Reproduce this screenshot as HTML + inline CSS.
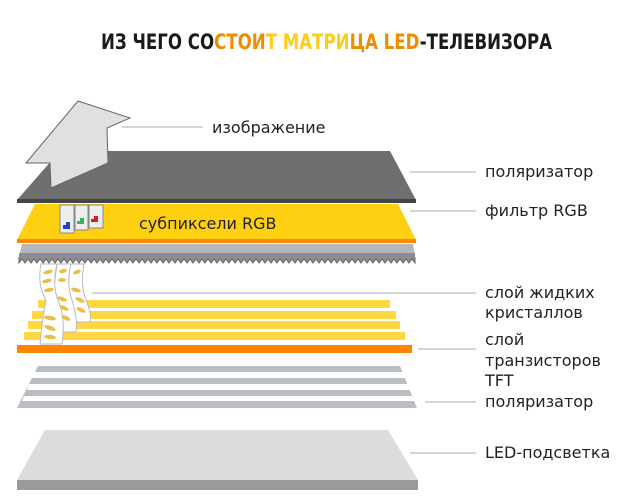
<!DOCTYPE html>
<html><head><meta charset="utf-8"><style>
html,body{margin:0;padding:0;background:#fff;width:640px;height:503px;overflow:hidden}
svg text{font-family:"DejaVu Sans","Liberation Sans",sans-serif;fill:#222}
</style></head><body>
<svg width="640" height="503" viewBox="0 0 640 503" xmlns="http://www.w3.org/2000/svg">
<text x="101" y="49" textLength="451" lengthAdjust="spacingAndGlyphs" style="font-family:'DejaVu Sans Condensed','DejaVu Sans',sans-serif;font-weight:bold;font-size:21px"><tspan fill="#1a1a1a">ИЗ ЧЕГО СО</tspan><tspan fill="#f08c00">СТОИ</tspan><tspan fill="#ffcc1a">Т МАТРИ</tspan><tspan fill="#f08c00">ЦА LED</tspan><tspan fill="#1a1a1a">-ТЕЛЕВИЗОРА</tspan></text>

<polygon points="45,430 388,430 418,480 17,480" fill="#dcdcda"/>
<rect x="17" y="480" width="401" height="10" fill="#9a9a9a"/>

<polygon points="38,366 400,366 417,408 17,408" fill="#b8bec4"/>
<polygon points="34,372 403,372 405,378 32,378" fill="#fff"/>
<polygon points="29,384 408,384 410,390 27,390" fill="#fff"/>
<polygon points="24,396 413,396 415,401 22,401" fill="#fff"/>

<rect x="38" y="300" width="352" height="8" fill="#ffd740"/>
<rect x="32" y="311" width="364" height="8" fill="#ffd740"/>
<rect x="28" y="321" width="372" height="8" fill="#ffd740"/>
<rect x="24" y="332" width="381" height="8" fill="#ffd740"/>
<rect x="17" y="345" width="395" height="8" fill="#ff8400"/>

<g stroke="#bbb" stroke-width="1" fill="#fff">
<path d="M70,264 L84,264 Q80,285 86,300 Q92,315 90,322 L74,322 Q74,305 68,290 Z"/>
<path d="M57,264 L71,264 Q66,285 72,300 Q78,320 76,332 L58,332 Q59,310 53,295 Z"/>
<path d="M41,264 L57,264 Q52,285 58,300 Q66,320 62,344 L40,344 Q42,320 46,300 Q37,285 41,264 Z"/>
</g>
<g fill="#e8c048">
<ellipse cx="48" cy="272" rx="5" ry="2" transform="rotate(-15 48 272)"/>
<ellipse cx="47" cy="281" rx="5" ry="2" transform="rotate(-15 47 281)"/>
<ellipse cx="49" cy="290" rx="5" ry="2" transform="rotate(-10 49 290)"/>
<ellipse cx="50" cy="318" rx="6" ry="2.2" transform="rotate(10 50 318)"/>
<ellipse cx="50" cy="328" rx="6" ry="2.2" transform="rotate(20 50 328)"/>
<ellipse cx="50" cy="337" rx="6" ry="2.2" transform="rotate(5 50 337)"/>
<ellipse cx="63" cy="271" rx="4" ry="2" transform="rotate(-15 63 271)"/>
<ellipse cx="62" cy="280" rx="4" ry="2"/>
<ellipse cx="62" cy="299" rx="5" ry="2" transform="rotate(20 62 299)"/>
<ellipse cx="64" cy="308" rx="5" ry="2" transform="rotate(25 64 308)"/>
<ellipse cx="66" cy="318" rx="5" ry="2" transform="rotate(25 66 318)"/>
<ellipse cx="77" cy="272" rx="4" ry="2" transform="rotate(-20 77 272)"/>
<ellipse cx="76" cy="290" rx="5" ry="2" transform="rotate(15 76 290)"/>
<ellipse cx="80" cy="300" rx="5" ry="2" transform="rotate(25 80 300)"/>
<ellipse cx="81" cy="310" rx="5" ry="2" transform="rotate(25 81 310)"/>
</g>

<polygon points="22,244 413,244 415,256 415,260 19,260 19,256" fill="#b4b8bc"/>
<rect x="19" y="253" width="396" height="4" fill="#8a8e92"/>
<polyline fill="#8a8e92" stroke="#666" stroke-width="1" points="19,257 19,263 22,259 25,263 28,259 31,263 34,259 37,263 40,259 43,263 46,259 49,263 52,259 55,263 58,259 61,263 64,259 67,263 70,259 73,263 76,259 79,263 82,259 85,263 88,259 91,263 94,259 97,263 100,259 103,263 106,259 109,263 112,259 115,263 118,259 121,263 124,259 127,263 130,259 133,263 136,259 139,263 142,259 145,263 148,259 151,263 154,259 157,263 160,259 163,263 166,259 169,263 172,259 175,263 178,259 181,263 184,259 187,263 190,259 193,263 196,259 199,263 202,259 205,263 208,259 211,263 214,259 217,263 220,259 223,263 226,259 229,263 232,259 235,263 238,259 241,263 244,259 247,263 250,259 253,263 256,259 259,263 262,259 265,263 268,259 271,263 274,259 277,263 280,259 283,263 286,259 289,263 292,259 295,263 298,259 301,263 304,259 307,263 310,259 313,263 316,259 319,263 322,259 325,263 328,259 331,263 334,259 337,263 340,259 343,263 346,259 349,263 352,259 355,263 358,259 361,263 364,259 367,263 370,259 373,263 376,259 379,263 382,259 385,263 388,259 391,263 394,259 397,263 400,259 403,263 406,259 409,263 412,259 415,263 415,257"/>

<polygon points="35,204 398,204 416,240 17,240" fill="#ffd012"/>
<rect x="17" y="239" width="399" height="4" fill="#ff8400"/>
<text x="139" y="229" style="font-size:16px">субпиксели RGB</text>
<g stroke="#888" fill="#eee" stroke-width="1">
<rect x="60" y="205" width="14" height="28"/><rect x="75" y="205" width="13" height="25"/><rect x="89" y="205" width="14" height="23"/>
</g>
<path d="M63,225 h3 v-3 h4 v7 h-7z" fill="#1f3fd8"/>
<path d="M77,221 h3 v-3 h4 v6 h-7z" fill="#3db060"/>
<path d="M91,219 h3 v-3 h4 v6 h-7z" fill="#d82020"/>

<polygon points="60,151 390,151 416,200 17,200" fill="#6f6f6f"/>
<rect x="17" y="199" width="399" height="4" fill="#444"/>

<polygon points="26,163 78,101 130,118 107,128 108,163 51,188 50,163" fill="#e0e0e0" stroke="#666" stroke-width="1"/>

<g stroke="#c8c8c8" stroke-width="1.5">
<line x1="122" y1="127" x2="203" y2="127"/>
<line x1="410" y1="172" x2="476" y2="172"/>
<line x1="410" y1="211" x2="476" y2="211"/>
<line x1="92" y1="293" x2="476" y2="293"/>
<line x1="418" y1="349" x2="476" y2="349"/>
<line x1="425" y1="402" x2="476" y2="402"/>
<line x1="410" y1="453" x2="476" y2="453"/>
</g>
<g style="font-size:16px">
<text x="212" y="133">изображение</text>
<text x="485" y="177">поляризатор</text>
<text x="485" y="216">фильтр RGB</text>
<text x="485" y="298">слой жидких</text>
<text x="485" y="318">кристаллов</text>
<text x="485" y="345">слой</text>
<text x="485" y="366">транзисторов</text>
<text x="485" y="386">TFT</text>
<text x="485" y="407">поляризатор</text>
<text x="485" y="458">LED-подсветка</text>
</g>
</svg>
</body></html>
